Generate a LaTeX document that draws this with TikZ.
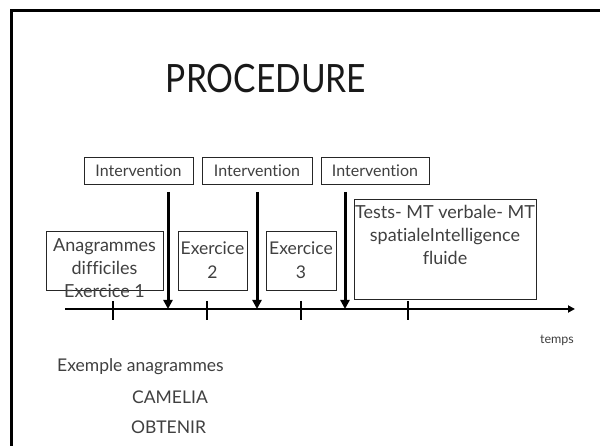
\documentclass[tikz,border=0pt]{standalone}
\usepackage{fontspec}
\setmainfont{Lato}[Ligatures=NoCommon]
\usetikzlibrary{arrows.meta}
\begin{document}
\begin{tikzpicture}[x=1pt,y=-1pt,
  frame/.style={line width=3pt},
  ibox/.style={draw=black!85, line width=0.8pt, minimum height=27pt, inner sep=0pt, text=black!75, font=\fontsize{16}{18}\selectfont},
  ebox/.style={draw=black!85, line width=0.8pt, inner sep=0pt, text=black!75, align=center, font=\fontsize{17.5}{24}\selectfont},
  btxt/.style={text=black!75, inner sep=0pt, align=center, font=\fontsize{18}{23}\selectfont},
  ltxt/.style={text=black!75, inner sep=0pt, font=\fontsize{17.5}{18}\selectfont},
  intarrow/.style={line width=3pt, -{Triangle[length=9pt,width=9pt]}},
  axis/.style={line width=2.5pt, -{Triangle[length=7pt,width=7pt]}},
  tick/.style={line width=2pt}]
\useasboundingbox (0,0) rectangle (600,446);
\fill[white] (0,0) rectangle (600,446);
\draw[frame] (11,460) -- (11,11) -- (620,11);
\node[text=black!90, inner sep=0pt, font=\fontsize{39}{40}\selectfont] (title) at (266,79) {\scalebox{0.86}[1]{PROCEDURE}};
% intervention boxes
\node[ibox, minimum width=109pt] (i1) at (138.5,170.5) {Intervention};
\node[ibox, minimum width=110pt] (i2) at (257,170.5) {Intervention};
\node[ibox, minimum width=108pt] (i3) at (375,170.5) {Intervention};
% exercise boxes
\node[ebox, minimum width=117pt, minimum height=59pt] (ana) at (104.5,260.5) {};
\node[btxt, anchor=north] (anatxt) at (104.5,238) {Anagrammes\\difficiles\\Exercice 1};
\node[ebox, minimum width=69pt, minimum height=59pt] (ex2) at (212.5,260.5) {Exercice\\2};
\node[ebox, minimum width=70pt, minimum height=59pt] (ex3) at (301,260.5) {Exercice\\3};
\node[ebox, minimum width=182pt, minimum height=100pt] (tests) at (445,249) {};
\node[btxt, anchor=north] (teststxt) at (445,205) {Tests- MT verbale- MT\\spatialeIntelligence\\fluide};
% timeline
\coordinate (t0) at (65,309);
\coordinate (t1) at (575,309);
\draw[axis] (t0) -- (t1);
\foreach \x/\n in {113/a,207/b,301/c,408/d}{
  \coordinate (k\n) at (\x,301);
  \coordinate (l\n) at (\x,320);
  \draw[tick] (k\n) -- (l\n);
}
% intervention arrows
\foreach \x/\n in {168/1,257/2,345/3}{
  \coordinate (s\n) at (\x,192);
  \coordinate (e\n) at (\x,309);
  \draw[intarrow] (s\n) -- (e\n);
}
\node[text=black!75, inner sep=0pt, font=\fontsize{12.5}{13}\selectfont] (temps) at (557,340) {temps};
\node[ltxt, anchor=west] (ex) at (57,367) {Exemple anagrammes};
\node[ltxt, anchor=west] (cam) at (132,397) {CAMELIA};
\node[ltxt, anchor=west] (obt) at (131,427) {OBTENIR};
\end{tikzpicture}
\end{document}
